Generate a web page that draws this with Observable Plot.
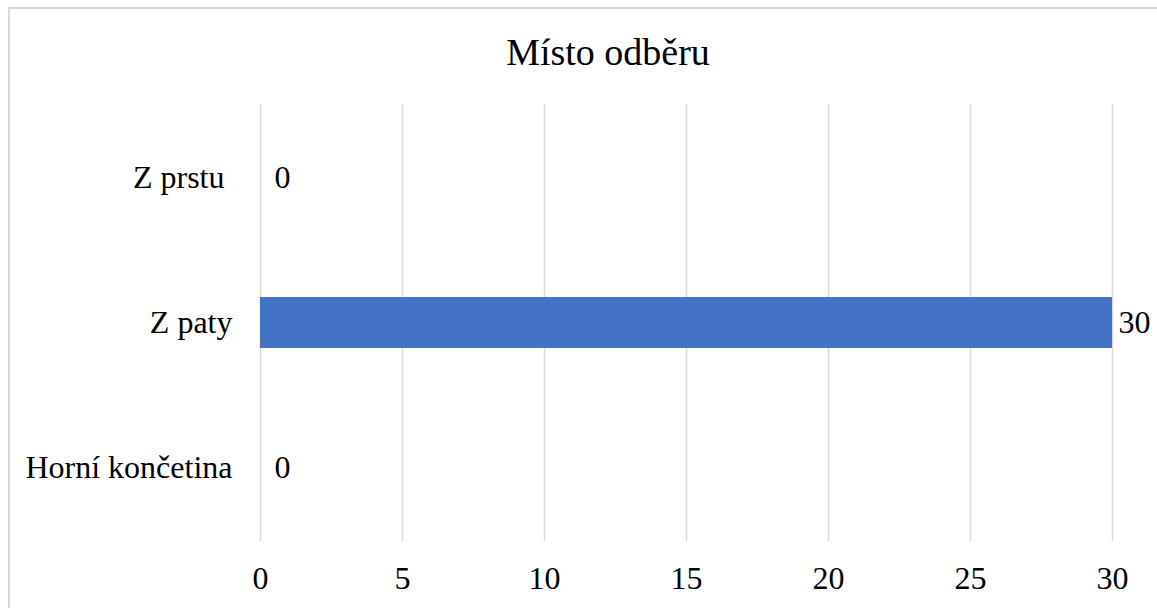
<!DOCTYPE html>
<html>
<head>
<meta charset="utf-8">
<script src="https://cdn.jsdelivr.net/npm/d3@7"></script>
<script src="https://cdn.jsdelivr.net/npm/@observablehq/plot@0.6"></script>
<style>
  html, body { margin: 0; padding: 0; background: #fff; }
  body { width: 1157px; height: 608px; position: relative; overflow: hidden;
         font-family: "Liberation Serif", Tinos, "Times New Roman", "DejaVu Serif", serif; }
  #frame { position: absolute; left: 8px; top: 7px; width: 1300px; height: 800px;
           border-left: 2px solid #d9d9d9; border-top: 2px solid #d9d9d9; }
  #title { position: absolute; left: 408px; width: 400px; top: 33px; text-align: center;
           font-size: 38px; line-height: 38px; color: #000; }
  #chart { position: absolute; left: 0; top: 0; }
  #chart svg text { white-space: pre; }
</style>
</head>
<body>
<div id="frame"></div>
<div id="title">Místo odběru</div>
<div id="chart"></div>
<script>
// Blood sampling site: number of samples per site
const categories = ["Z prstu ", "Z paty", "Horní končetina"];
const counts = [0, 30, 0];
const xTicks = [0, 5, 10, 15, 20, 25, 30];

const serif = '"Liberation Serif", Tinos, "Times New Roman", "DejaVu Serif", serif';
const rows = categories.map((site, i) => ({site, count: counts[i]}));

const chart = Plot.plot({
  width: 1157,
  height: 608,
  marginTop: 104,
  marginBottom: 67,
  marginLeft: 260,
  marginRight: 45,
  style: {fontFamily: serif, fontSize: "32px", color: "#000", background: "transparent"},
  x: {domain: [0, 30], ticks: xTicks, label: null},
  y: {domain: categories, paddingInner: 0.646, paddingOuter: 0.323, label: null},
  marks: [
    Plot.gridX(xTicks, {stroke: "#d9d9d9", strokeOpacity: 1, strokeWidth: 1.5}),
    Plot.barX(rows, {y: "site", x: "count", fill: "#4472c4"}),
    Plot.text(rows.filter(d => d.count > 0), {y: "site", x: "count", text: d => String(d.count),
      textAnchor: "start", dx: 6, fill: "#000", fontSize: 32, fontFamily: serif}),
    Plot.text(rows.filter(d => d.count === 0), {y: "site", x: "count", text: d => String(d.count),
      textAnchor: "start", dx: 14, fill: "#000", fontSize: 32, fontFamily: serif}),
    Plot.axisX({ticks: xTicks, tickSize: 0, tickPadding: 25, fontSize: 32, fontFamily: serif, label: null}),
    Plot.axisY({tickSize: 0, tickPadding: 28, fontSize: 32, fontFamily: serif, label: null})
  ]
});
document.getElementById("chart").appendChild(chart);
</script>
</body>
</html>
